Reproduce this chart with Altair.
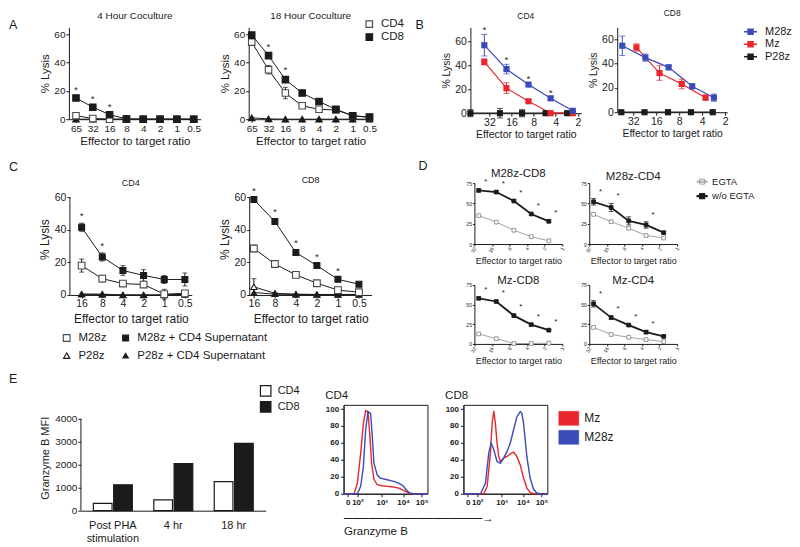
import altair as alt
import pandas as pd

FONT = "Liberation Sans"
INK = "#1b1b1b"
GRAY = "#4a4a4a"
LGRAY = "#8c8c8c"
BLUE = "#3a4bb7"
RED = "#e8262d"

# ---------------- Panel A ----------------
a_ratio = ["65", "32", "16", "8", "4", "2", "1", "0.5"]
a4_cd4 = [2.5, 0.5, 0.0, 0.0, 0.0, 0.0, 0.0, 0.0]
a4_cd4_err = [1.0, 0.5, 0.0, 0.0, 0.0, 0.0, 0.0, 0.0]
a4_cd8 = [15.0, 8.5, 3.2, 0.2, 0.0, 0.0, 0.0, 0.0]
a4_cd8_err = [1.0, 0.8, 0.8, 0.3, 0.0, 0.0, 0.0, 0.0]
a4_ctl = [0.0, 0.0, 0.0, 0.0, 0.0, 0.0, 0.0, 0.0]
a4_sig = [1, 1, 1, 0, 0, 0, 0, 0]

a18_cd4 = [54.5, 35.0, 18.5, 9.5, 7.0, 6.5, 2.5, 1.2]
a18_cd4_err = [2.0, 3.0, 4.0, 1.5, 1.0, 1.0, 0.8, 0.5]
a18_cd8 = [59.5, 45.0, 28.0, 18.5, 12.5, 7.0, 2.5, 1.5]
a18_cd8_err = [1.5, 1.0, 2.0, 1.0, 1.0, 1.0, 0.5, 0.5]
a18_ctl = [1.0, 0.2, 0.0, 0.0, 0.0, 0.0, 0.0, 0.0]
a18_sig = [0, 1, 1, 0, 0, 0, 0, 0]

# ---------------- Panel B ----------------
b_series = ["M28z", "Mz", "P28z"]
b_ticks = [32, 16, 8, 4, 2]
b4_m28z_x = [37.5, 18.75, 9.4, 4.7, 2.35]
b4_m28z = [57.0, 37.0, 24.0, 12.5, 2.0]
b4_m28z_err = [9.0, 4.0, 1.0, 1.0, 0.5]
b4_mz_x = [37.5, 18.75, 9.4, 4.7, 2.35]
b4_mz = [43.0, 21.0, 10.0, 0.0, 0.0]
b4_mz_err = [2.5, 4.5, 1.0, 0.5, 0.3]
b4_p28z_x = [58.0, 23.0, 11.5, 5.5, 2.8]
b4_p28z = [0.0, 0.0, 0.0, 0.0, 0.0]
b4_p28z_err = [3.0, 4.0, 3.0, 0.5, 0.5]
b4_sig = [1, 1, 1, 1, 0]

b8_m28z_x = [44.6, 22.2, 11.0, 5.4, 2.8]
b8_m28z = [54.8, 45.0, 37.0, 21.4, 12.0]
b8_m28z_err = [8.0, 3.0, 2.0, 2.0, 3.0]
b8_mz_x = [29.1, 14.5, 7.4, 3.6]
b8_mz = [53.4, 32.3, 23.3, 12.0]
b8_mz_err = [3.0, 6.0, 4.0, 2.0]
b8_p28z_x = [46.0, 22.8, 11.2, 5.6, 2.9]
b8_p28z = [0.0, 0.0, 0.0, 0.0, 0.0]
b8_p28z_err = [0.5, 0.5, 2.0, 0.5, 0.5]

# ---------------- Panel C ----------------
c_ratio = ["16", "8", "4", "2", "1", "0.5"]
c4_m28z = [18.0, 10.0, 7.0, 6.4, 0.5, 1.0]
c4_m28z_err = [4.0, 2.0, 1.0, 1.0, 3.0, 1.0]
c4_sup = [41.5, 23.3, 15.0, 12.0, 9.5, 9.5]
c4_sup_err = [2.5, 2.5, 3.0, 3.5, 2.5, 4.0]
c4_p28z = [0.5, 0.5, 0.0, 0.0, 0.0, 0.5]
c4_p28z_sup = [0.5, 0.3, 0.0, 0.0, 0.0, 0.3]
c4_sig = [1, 1, 0, 0, 0, 0]

c8_m28z = [28.5, 19.0, 12.3, 7.2, 3.0, 1.7]
c8_m28z_err = [2.0, 1.0, 1.5, 1.0, 1.0, 1.0]
c8_sup = [58.5, 45.0, 26.0, 18.0, 9.6, 6.6]
c8_sup_err = [1.0, 1.5, 1.5, 1.0, 1.0, 1.0]
c8_p28z = [5.0, 1.0, 0.5, 0.3, 0.3, 0.3]
c8_p28z_err = [5.0, 0.5, 0.0, 0.0, 0.0, 0.0]
c8_p28z_sup = [1.5, 0.5, 0.3, 0.3, 0.3, 0.3]
c8_sig = [1, 1, 1, 1, 1, 0]

# ---------------- Panel D ----------------
d_ticks = [32, 16, 8, 4, 2, 1]
d_x = [27.0, 13.5, 6.75, 3.4, 1.7]
d_series = ["EGTA", "w/o EGTA"]
d1_wo = [66.0, 64.0, 53.0, 37.0, 28.0]
d1_wo_err = [1.5, 1.5, 1.5, 1.5, 1.5]
d1_egta = [35.0, 27.0, 17.0, 9.0, 4.0]
d1_sig = [1, 1, 1, 1, 1]
d2_wo = [52.0, 45.0, 28.5, 23.5, 14.0]
d2_wo_err = [4.0, 5.0, 5.0, 4.0, 1.5]
d2_egta = [36.5, 27.5, 19.5, 10.5, 7.5]
d2_sig = [1, 1, 0, 1, 0]
d3_wo = [58.0, 54.0, 36.0, 24.5, 17.5]
d3_wo_err = [1.5, 1.5, 1.5, 1.0, 1.0]
d3_egta = [12.7, 6.7, 0.5, 0.5, 1.0]
d3_sig = [1, 1, 1, 1, 1]
d4_wo = [51.0, 33.5, 24.0, 15.0, 9.6]
d4_wo_err = [4.0, 2.0, 1.0, 2.0, 1.0]
d4_egta = [21.0, 12.0, 8.5, 5.5, 3.0]
d4_sig = [1, 1, 1, 1, 0]

# ---------------- Panel E ----------------
e_groups = ["Post PHA stimulation", "4 hr", "18 hr"]
e_cells = ["CD4", "CD8"]
e_cd4 = [320, 470, 1270]
e_cd8 = [1130, 2050, 2930]

h_series = ["Mz", "M28z"]
h_tick_pos = [5, 16.5, 45.5, 71, 93]
h_tick_lab = ["0", "10\u00b2", "10\u00b3", "10\u2074", "10\u2075"]
h4_mz_u = [0, 12.6, 16.5, 20.4, 23.6, 26.3, 29.1, 31.4, 33.4, 36.2, 40.1, 46.0, 51.9, 59.8, 65.7, 71.6, 76.3, 79.5, 100]
h4_mz_v = [0, 0, 12.6, 48, 83, 98, 97, 68, 36, 17, 10.6, 9.4, 8.7, 7.9, 6.7, 4.0, 1.6, 0, 0]
h4_m28z_u = [0, 16.5, 20.4, 23.6, 26.3, 29.1, 32.2, 34.2, 36.2, 40.1, 44.0, 51.9, 59.8, 65.7, 70.8, 74.7, 78.7, 83.4, 100]
h4_m28z_v = [0, 0, 8.7, 32, 75.6, 97, 95, 68, 36, 22, 18.5, 16.5, 14.6, 12.6, 9.4, 4.7, 0.8, 0, 0]
h8_mz_u = [0, 24.4, 28.3, 32.2, 34.2, 36.2, 38.1, 40.1, 42.1, 44.0, 48.0, 52.0, 55.9, 59.8, 63.8, 67.7, 71.7, 75.6, 79.5, 83.5, 100]
h8_mz_v = [0, 0, 8.7, 48, 83, 98, 83, 60, 44, 38, 42, 44, 47, 49, 44, 34, 18.5, 6.7, 1.6, 0, 0]
h8_m28z_u = [0, 20.4, 26.3, 30.2, 33.0, 36.2, 40.1, 44.0, 48.0, 52.0, 55.9, 59.8, 63.8, 67.7, 69.7, 71.7, 73.6, 75.6, 79.5, 83.5, 87.4, 91.4, 100]
h8_m28z_v = [0, 0, 12.6, 48, 60, 52, 38, 36, 42, 50, 60, 75.6, 91, 97, 95, 83, 64, 44, 18.5, 5.5, 0.8, 0, 0]


# ---------------- helpers ----------------
def rows(xs, name, vals, errs=None):
    out = []
    for i, (x, v) in enumerate(zip(xs, vals)):
        e = errs[i] if errs is not None else 0.0
        out.append({"x": x, "s": name, "v": v, "lo": v - e, "hi": v + e})
    return out


def star_frame(frame, xs, sig, only=None):
    f = frame if only is None else frame[frame["s"] == only]
    tops = f.groupby("x")["hi"].max()
    return pd.DataFrame([{"x": x, "top": float(tops[x])} for x, s in zip(xs, sig) if s])


def title(text, fs, off):
    return alt.TitleParams(text=text, fontSize=fs, offset=off, font=FONT, fontWeight="normal", color=INK)


def spacer(w, ttl=None, off=0, dx=0):
    c = alt.Chart(pd.DataFrame({"a": [0]})).mark_point(opacity=0, size=1).encode(
        x=alt.X("a:Q", axis=None, scale=alt.Scale(domain=[0, 1])),
        y=alt.Y("a:Q", axis=None, scale=alt.Scale(domain=[0, 1])))
    if ttl is None:
        return c.properties(width=w, height=1)
    return c.properties(width=w, height=1, title=alt.TitleParams(
        text=ttl, anchor="start", frame="group", offset=off, dx=dx, fontSize=12.5, font=FONT,
        fontWeight="normal", color=INK))


def legend_spacer(w, names, legend, **channels):
    """An empty unit chart whose only job is to carry a legend."""
    enc = {}
    for ch, rng in channels.items():
        cls = {"shape": alt.Shape, "fill": alt.Fill, "stroke": alt.Stroke,
               "size": alt.Size, "strokeWidth": alt.StrokeWidth}[ch]
        enc[ch] = cls("s:N", scale=alt.Scale(domain=names, range=rng), legend=legend)
    return alt.Chart(pd.DataFrame({"s": names})).transform_filter("false").mark_point(
        opacity=1, fillOpacity=1).encode(**enc).properties(width=w, height=1)


def indep(c):
    return c.resolve_scale(fill="independent", stroke="independent", shape="independent",
                           color="independent", size="independent", strokeWidth="independent")


def cat_lysis(frame, stars, xdom, width, height, ydom, yvals, styles, ttl, ttl_fs, ttl_off,
              pad, align, tick_fs, ax_fs, star_dy=-7, axis_top=None, xpad=1):
    names = list(styles)

    X = alt.X("x:N", scale=alt.Scale(type="point", domain=xdom, padding=pad, align=align),
              axis=alt.Axis(title="Effector to target ratio", labelAngle=0, labelFontSize=tick_fs,
                            titleFontSize=ax_fs, tickSize=3, labelPadding=1, titlePadding=xpad))

    def Y(field):
        return alt.Y(f"{field}:Q", scale=alt.Scale(domain=ydom, nice=False, zero=False),
                     axis=alt.Axis(title="% Lysis", values=yvals, labelFontSize=tick_fs,
                                   titleFontSize=ax_fs, tickSize=3, labelPadding=1, titlePadding=3,
                                   domain=axis_top is None))

    def sc(k):
        return alt.Scale(domain=names, range=[styles[n][k] for n in names])

    base = alt.Chart(frame)
    line = base.mark_line(color=INK, strokeWidth=1).encode(x=X, y=Y("v"), detail="s:N")
    err = base.transform_filter("datum.hi > datum.lo").mark_errorbar(
        ticks=True, size=5, thickness=1, color=INK).encode(x=X, y=Y("lo"), y2="hi:Q", detail="s:N")
    pts = base.mark_point(opacity=1, fillOpacity=1, strokeWidth=1.1).encode(
        x=X, y=Y("v"),
        shape=alt.Shape("s:N", scale=sc(0), legend=None),
        fill=alt.Fill("s:N", scale=sc(1), legend=None),
        stroke=alt.Stroke("s:N", scale=sc(2), legend=None),
        size=alt.Size("s:N", scale=sc(3), legend=None))
    st = alt.Chart(stars).mark_text(text="*", fontSize=10, dy=star_dy, font=FONT).encode(
        x=X, y=Y("top"), fill=alt.value(INK))
    layers = [line, err, pts, st]
    if axis_top is not None:
        ax = alt.Chart(pd.DataFrame({"lo": [0], "hi": [axis_top]})).mark_rule(
            color=INK, strokeWidth=1).encode(x=alt.value(0), y=Y("lo"), y2="hi:Q")
        layers.append(ax)
    return alt.layer(*layers).properties(width=width, height=height,
                                         title=title(ttl, ttl_fs, ttl_off))


SQ_LINE = "M-1,-0.12H1V0.12H-1Z M-0.5,-0.5H0.5V0.5H-0.5Z"
RECT = "M-1,-0.7H1V0.7H-1Z"


def b_panel(frame, stars, xdom, width, height, ydom, ttl, ttl_off):
    cols = alt.Scale(domain=b_series, range=[BLUE, RED, INK])
    X = alt.X("x:Q", scale=alt.Scale(type="log", base=2, domain=xdom, reverse=True, nice=False),
              axis=alt.Axis(title="Effector to target ratio", values=b_ticks, format="~g",
                            labelFontSize=10.5, titleFontSize=10.5, tickSize=3, labelPadding=1,
                            titlePadding=2))

    def Y(field):
        return alt.Y(f"{field}:Q", scale=alt.Scale(domain=ydom, nice=False, zero=False),
                     axis=alt.Axis(title="% Lysis", values=[0, 20, 40, 60], labelFontSize=10.5,
                                   titleFontSize=10.5, tickSize=3, labelPadding=1, titlePadding=3))

    base = alt.Chart(frame)
    line = base.mark_line(strokeWidth=1.2).encode(
        x=X, y=Y("v"), stroke=alt.Stroke("s:N", scale=cols, legend=None))
    err = base.transform_filter("datum.hi > datum.lo").mark_errorbar(
        ticks=True, size=6, thickness=1).encode(
        x=X, y=Y("lo"), y2="hi:Q", color=alt.Color("s:N", scale=cols, legend=None))
    pts = base.mark_point(shape="square", filled=True, opacity=1, size=38).encode(
        x=X, y=Y("v"), fill=alt.Fill("s:N", scale=cols, legend=None))
    layers = [line, err, pts]
    if stars is not None and len(stars):
        layers.append(alt.Chart(stars).mark_text(text="*", fontSize=10, dy=-4, font=FONT).encode(
            x=X, y=Y("top"), fill=alt.value(INK)))
    return alt.layer(*layers).properties(width=width, height=height, title=title(ttl, 8.5, ttl_off))


def d_panel(frame, stars, width, height, ttl, ttl_off):
    shp = alt.Scale(domain=d_series, range=["square", "square"])
    fil = alt.Scale(domain=d_series, range=["white", INK])
    stk = alt.Scale(domain=d_series, range=[LGRAY, INK])
    sw = alt.Scale(domain=d_series, range=[0.8, 1.8])
    X = alt.X("x:Q", scale=alt.Scale(type="log", base=2, domain=[1, 32], reverse=True, nice=False),
              axis=alt.Axis(title="Effector to target ratio", values=d_ticks, format="~g",
                            labelFontSize=5, labelAngle=-60, titleFontSize=9, tickSize=2,
                            labelPadding=1, titlePadding=3))

    def Y(field):
        return alt.Y(f"{field}:Q", scale=alt.Scale(domain=[0, 75], nice=False),
                     axis=alt.Axis(title=None, values=[0, 25, 50, 75], labelFontSize=5,
                                   tickSize=2, labelPadding=1))

    base = alt.Chart(frame)
    line = base.mark_line().encode(x=X, y=Y("v"),
                                   stroke=alt.Stroke("s:N", scale=stk, legend=None),
                                   strokeWidth=alt.StrokeWidth("s:N", scale=sw, legend=None))
    err = base.transform_filter("datum.hi > datum.lo").mark_errorbar(
        ticks=True, size=5, thickness=1, color=INK).encode(x=X, y=Y("lo"), y2="hi:Q")
    pts = base.mark_point(opacity=1, fillOpacity=1, strokeWidth=0.9, size=14).encode(
        x=X, y=Y("v"),
        shape=alt.Shape("s:N", scale=shp, legend=None),
        fill=alt.Fill("s:N", scale=fil, legend=None),
        stroke=alt.Stroke("s:N", scale=stk, legend=None))
    st = alt.Chart(stars).mark_text(text="*", fontSize=8, dx=7, dy=-7, font=FONT).encode(
        x=X, y=Y("top"), fill=alt.value(INK))
    return alt.layer(line, err, pts, st).properties(width=width, height=height,
                                                     title=title(ttl, 11.5, ttl_off))


def h_panel(frame, ttl, xtitle=None):
    cols = alt.Scale(domain=h_series, range=[RED, BLUE])
    expr = " : ".join(f"datum.value == {p} ? '{l}'" for p, l in zip(h_tick_pos, h_tick_lab)) + " : ''"
    xaxis = dict(values=h_tick_pos, labelExpr=expr, labelFontSize=8, labelFontWeight="bold",
                 tickSize=3, labelPadding=2, labelFlush=False, labelOverlap=False)
    if xtitle is None:
        xaxis["title"] = None
    else:
        xaxis.update(title=xtitle, titleAnchor="start", titleAlign="left", titleFontSize=11.5,
                     titlePadding=6, titleLineHeight=13, titleColor=INK)
    X = alt.X("u:Q", scale=alt.Scale(domain=[0, 100], nice=False), axis=alt.Axis(**xaxis))
    Y = alt.Y("v:Q", scale=alt.Scale(domain=[0, 105], nice=False),
              axis=alt.Axis(title=None, values=[0, 20, 40, 60, 80, 100], labelFontSize=8,
                            labelFontWeight="bold", tickSize=3, labelPadding=2))
    return alt.Chart(frame).mark_line(strokeWidth=1.4).encode(
        x=X, y=Y, stroke=alt.Stroke("s:N", scale=cols, legend=None), order="i:Q"
    ).properties(width=84, height=89, title=alt.TitleParams(
        text=ttl, fontSize=11.5, offset=3, anchor="start", font=FONT, fontWeight="normal", color=INK),
        view=alt.ViewBackground(stroke=INK, strokeWidth=1))


# ---------------- build Panel A ----------------
sty_a = {"CD4": ("square", "white", GRAY, 42), "CD8": ("square", INK, INK, 42),
         "ctl": ("triangle-up", INK, INK, 18)}
fa4 = pd.DataFrame(rows(a_ratio, "ctl", a4_ctl) + rows(a_ratio, "CD4", a4_cd4, a4_cd4_err)
                   + rows(a_ratio, "CD8", a4_cd8, a4_cd8_err))
fa18 = pd.DataFrame(rows(a_ratio, "ctl", a18_ctl) + rows(a_ratio, "CD4", a18_cd4, a18_cd4_err)
                    + rows(a_ratio, "CD8", a18_cd8, a18_cd8_err))
A4 = cat_lysis(fa4, star_frame(fa4, a_ratio, a4_sig), a_ratio, 132, 92, [0, 65], [0, 20, 40, 60],
               sty_a, "4 Hour Coculture", 10, 6, 0.42, 0.5, 10, 11.5, xpad=2)
A18 = cat_lysis(fa18, star_frame(fa18, a_ratio, a18_sig), a_ratio, 124, 92, [0, 65], [0, 20, 40, 60],
                sty_a, "18 Hour Coculture", 10, 6, 0.18, 0.5, 10, 11.5, xpad=2)
leg_a = alt.Legend(orient="none", legendX=-9, legendY=-9, title=None,
                   labelFontSize=11.5, labelFont=FONT, symbolStrokeWidth=1.2,
                   rowPadding=0, labelOffset=6)
A_leg = legend_spacer(40, ["CD4", "CD8"], leg_a, shape=["square", "square"], fill=["white", INK],
                      stroke=[GRAY, INK], size=[42, 42])

# ---------------- build Panel B ----------------
fb4 = pd.DataFrame(rows(b4_p28z_x, "P28z", b4_p28z, b4_p28z_err) + rows(b4_mz_x, "Mz", b4_mz, b4_mz_err)
                   + rows(b4_m28z_x, "M28z", b4_m28z, b4_m28z_err))
fb8 = pd.DataFrame(rows(b8_p28z_x, "P28z", b8_p28z, b8_p28z_err) + rows(b8_mz_x, "Mz", b8_mz, b8_mz_err)
                   + rows(b8_m28z_x, "M28z", b8_m28z, b8_m28z_err))
B4 = b_panel(fb4, star_frame(fb4, b4_m28z_x, b4_sig, only="M28z"), [1.8, 58], 111, 86, [0, 72], "CD4", 5)
B8 = b_panel(fb8, None, [1.88, 52], 110, 85, [0, 70], "CD8", 10)
leg_b = alt.Legend(orient="none", legendX=17, legendY=-2, title=None, labelFontSize=11,
                   labelFont=FONT, symbolType=SQ_LINE, symbolSize=169, symbolStrokeWidth=0,
                   rowPadding=0.5, labelOffset=8)
B_leg = legend_spacer(55, b_series, leg_b, fill=[BLUE, RED, INK], stroke=[BLUE, RED, INK])

# ---------------- build Panel C ----------------
sty_c = {"M28z": ("square", "white", GRAY, 45), "P28z": ("triangle-up", "white", INK, 30),
         "M28z + CD4 Supernatant": ("square", INK, INK, 45),
         "P28z + CD4 Supernatant": ("triangle-up", INK, INK, 30)}
fc4 = pd.DataFrame(rows(c_ratio, "P28z", c4_p28z) + rows(c_ratio, "P28z + CD4 Supernatant", c4_p28z_sup)
                   + rows(c_ratio, "M28z", c4_m28z, c4_m28z_err)
                   + rows(c_ratio, "M28z + CD4 Supernatant", c4_sup, c4_sup_err))
fc8 = pd.DataFrame(rows(c_ratio, "P28z", c8_p28z, c8_p28z_err)
                   + rows(c_ratio, "P28z + CD4 Supernatant", c8_p28z_sup)
                   + rows(c_ratio, "M28z", c8_m28z, c8_m28z_err)
                   + rows(c_ratio, "M28z + CD4 Supernatant", c8_sup, c8_sup_err))
C_TOP = 60 * 112 / 98
C4 = cat_lysis(fc4, star_frame(fc4, c_ratio, c4_sig), c_ratio, 122, 112, [0, C_TOP], [0, 20, 40, 60],
               sty_c, "CD4", 9, -5, 0.45, 0.63, 10.5, 12, axis_top=60, xpad=4)
C8 = cat_lysis(fc8, star_frame(fc8, c_ratio, c8_sig), c_ratio, 122, 112, [0, C_TOP], [0, 20, 40, 60],
               sty_c, "CD8", 9, -2, 0.4, 0.25, 10.5, 12, axis_top=60, xpad=4)
leg_c = alt.Legend(orient="none", legendX=-8, legendY=149, title=None, columns=2, columnPadding=13,
                   labelFontSize=11.5, labelFont=FONT, symbolStrokeWidth=1.1,
                   rowPadding=5, labelOffset=6)
c_names = list(sty_c)
C_leg = legend_spacer(1, c_names, leg_c, shape=[sty_c[n][0] for n in c_names],
                      fill=[sty_c[n][1] for n in c_names], stroke=[sty_c[n][2] for n in c_names],
                      size=[sty_c[n][3] for n in c_names])

# ---------------- build Panel D ----------------
def d_frame(wo, wo_err, egta):
    return pd.DataFrame(rows(d_x, "EGTA", egta) + rows(d_x, "w/o EGTA", wo, wo_err))


fd1, fd2, fd3, fd4 = (d_frame(d1_wo, d1_wo_err, d1_egta), d_frame(d2_wo, d2_wo_err, d2_egta),
                      d_frame(d3_wo, d3_wo_err, d3_egta), d_frame(d4_wo, d4_wo_err, d4_egta))
D1 = d_panel(fd1, star_frame(fd1, d_x, d1_sig), 88, 61, "M28z-CD8", -1)
D2 = d_panel(fd2, star_frame(fd2, d_x, d2_sig), 88, 61, "M28z-CD4", -1)
D3 = d_panel(fd3, star_frame(fd3, d_x, d3_sig), 88, 59, "Mz-CD8", -4)
D4 = d_panel(fd4, star_frame(fd4, d_x, d4_sig), 88, 59, "Mz-CD4", -4)
leg_d = alt.Legend(orient="none", legendX=-8, legendY=-7, title=None, labelFontSize=9.5,
                   labelFont=FONT, symbolType=SQ_LINE, symbolSize=100,
                   rowPadding=4, labelOffset=4)
D_leg = legend_spacer(1, d_series, leg_d, fill=["white", INK], stroke=[LGRAY, INK],
                      strokeWidth=[0.8, 1.2])

# ---------------- build Panel E ----------------
E_TOP = 4000 * 106 / 92
fe = pd.DataFrame([{"g": g, "c": "CD4", "v": v} for g, v in zip(e_groups, e_cd4)]
                  + [{"g": g, "c": "CD8", "v": v} for g, v in zip(e_groups, e_cd8)])
EY = alt.Y("v:Q", scale=alt.Scale(domain=[0, E_TOP], nice=False),
           axis=alt.Axis(title="Granzyme B MFI", values=[0, 1000, 2000, 3000, 4000], format="d",
                         labelFontSize=10, titleFontSize=11, tickSize=3, labelPadding=1,
                         titlePadding=4, domain=False))
bars = alt.Chart(fe).mark_bar(stroke=INK, strokeWidth=1.2).encode(
    x=alt.X("g:N", sort=e_groups, scale=alt.Scale(domain=e_groups, paddingInner=0.355, paddingOuter=0.206),
            axis=alt.Axis(title=None, labelAngle=0, labelFontSize=11, ticks=False, labelPadding=9,
                          labelExpr="datum.label == 'Post PHA stimulation' ? ['Post PHA', 'stimulation'] : datum.label")),
    xOffset=alt.XOffset("c:N", scale=alt.Scale(domain=e_cells, paddingInner=0.08)),
    y=EY,
    fill=alt.Fill("c:N", scale=alt.Scale(domain=e_cells, range=["white", INK]),
                  legend=alt.Legend(orient="none", legendX=179, legendY=-20, title=None,
                                    symbolType="square", symbolSize=110, symbolStrokeColor=INK,
                                    symbolStrokeWidth=1.2, labelFontSize=11, labelFont=FONT,
                                    rowPadding=0, labelOffset=6)),
)
e_axis = alt.Chart(pd.DataFrame({"v": [0], "hi": [4000]})).mark_rule(color=INK, strokeWidth=1).encode(
    x=alt.value(0), y=EY, y2="hi:Q")
bar = alt.layer(bars, e_axis).properties(width=185, height=106)


def h_frame(mz_u, mz_v, m_u, m_v):
    out = [{"u": u, "v": v, "s": "Mz", "i": i} for i, (u, v) in enumerate(zip(mz_u, mz_v))]
    out += [{"u": u, "v": v, "s": "M28z", "i": i} for i, (u, v) in enumerate(zip(m_u, m_v))]
    return pd.DataFrame(out)


H4 = h_panel(h_frame(h4_mz_u, h4_mz_v, h4_m28z_u, h4_m28z_v), "CD4",
             xtitle=["\u2500" * 17 + "\u2192", "Granzyme B"])
H8 = h_panel(h_frame(h8_mz_u, h8_mz_v, h8_m28z_u, h8_m28z_v), "CD8")
leg_h = alt.Legend(orient="none", legendX=11, legendY=3, title=None, symbolType=RECT,
                   symbolSize=400, symbolStrokeWidth=0.5, labelFontSize=12, labelFont=FONT,
                   rowPadding=0, labelOffset=5)
H_leg = legend_spacer(60, h_series, leg_h, fill=[RED, BLUE], stroke=[RED, BLUE])

# ---------------- layout ----------------
row1 = indep(alt.hconcat(spacer(60, "A", -4), A4, spacer(48), A18, A_leg, spacer(58, "B", -4, 3), B4,
                         spacer(35.5), B8, B_leg, spacing=0, bounds="flush"))
C_row = indep(alt.hconcat(spacer(60, "C", 9.5), C_leg, C4, spacer(58), C8,
                          spacer(50, "D", 10.5, 47), spacing=0, bounds="flush"))
D_grp = indep(alt.concat(D1, D2, D_leg, D3, D4, spacer(1), columns=3,
                         spacing=alt.RowColnumber(row=41, column=27), bounds="flush"))
row2 = indep(alt.hconcat(C_row, D_grp, spacing=37))
row3 = indep(alt.hconcat(spacer(72, "E", 19.5), bar, spacer(78), H4, spacer(36), H8, H_leg,
                         spacing=0, bounds="flush"))

upper = indep(alt.vconcat(row1, row2, spacing=13))
chart = indep(alt.vconcat(upper, row3, spacing=7)).properties(
    padding=0, background="white"
).configure_axis(
    labelFont=FONT, titleFont=FONT, labelColor=INK, titleColor=INK, domainColor=INK, tickColor=INK,
    grid=False, titleFontWeight="normal", domainWidth=1, tickWidth=1
).configure_title(font=FONT, fontWeight="normal", color=INK
).configure_legend(labelFont=FONT, labelColor=INK
).configure_view(stroke=None)

chart.save("out.html", embed_options={"renderer": "svg", "actions": False})
